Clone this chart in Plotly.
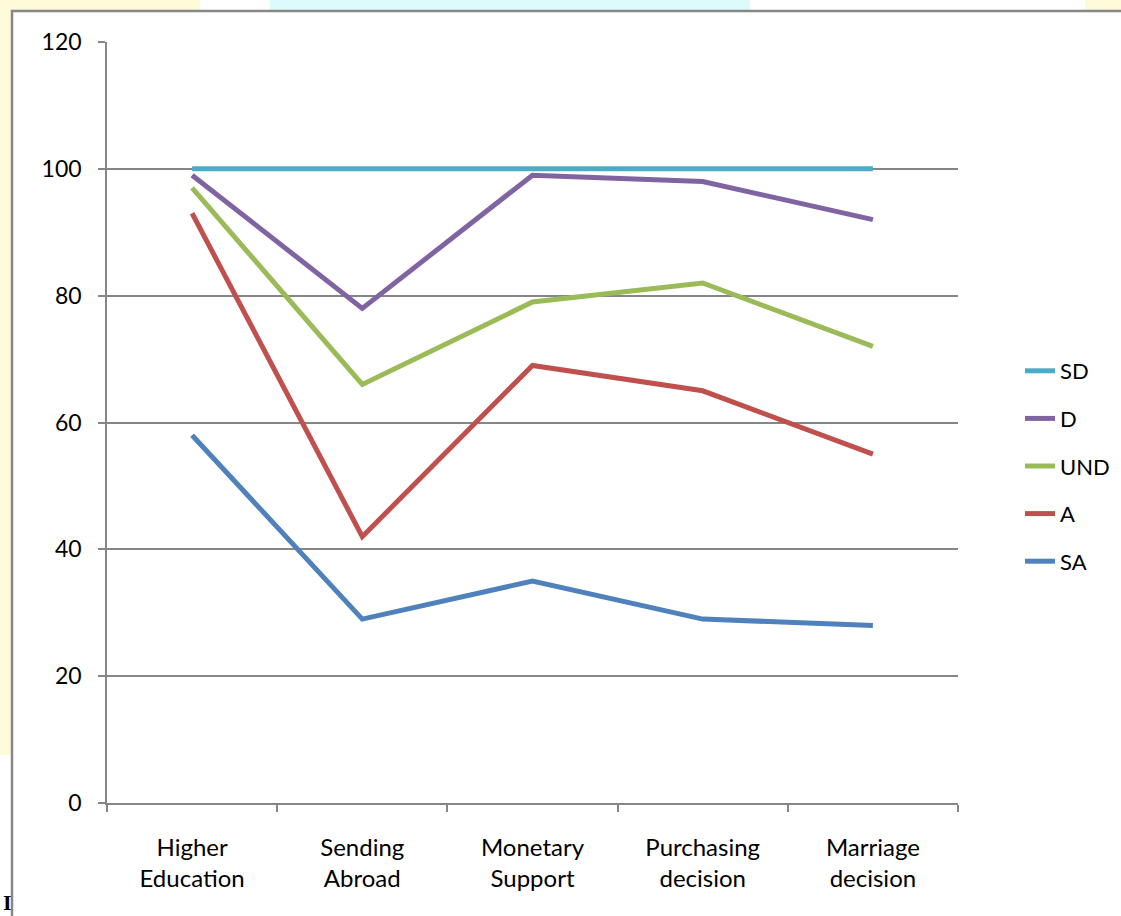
import plotly.graph_objects as go

categories = ["Higher<br>Education", "Sending<br>Abroad", "Monetary<br>Support",
              "Purchasing<br>decision", "Marriage<br>decision"]
sd = [100, 100, 100, 100, 100]
d = [99, 78, 99, 98, 92]
und = [97, 66, 79, 82, 72]
a = [93, 42, 69, 65, 55]
sa = [58, 29, 35, 29, 28]

# drawing order (bottom to top) with legend rank
series = [
    ("SA", sa, "#4F81BD", 5),
    ("A", a, "#C0504D", 4),
    ("UND", und, "#9BBB59", 3),
    ("D", d, "#8064A2", 2),
    ("SD", sd, "#4BACC6", 1),
]

W, H = 1121, 916
L, R, T, B = 107, 958, 42, 803

def px(x):
    return (x - L) / (R - L)

def py(y):
    return (B - y) / (B - T)

fig = go.Figure()
for name, vals, color, rank in series:
    fig.add_trace(go.Scatter(
        x=categories, y=vals, name=name, mode="lines",
        line=dict(color=color, width=5),
        legendgroup=name, legendrank=rank,
    ))

shapes = [
    dict(type="rect", xref="paper", yref="paper", x0=px(-5), x1=px(12), y0=py(755), y1=py(-5),
         fillcolor="#FEFBDB", line=dict(width=0), layer="below"),
    dict(type="rect", xref="paper", yref="paper", x0=px(-5), x1=px(200), y0=py(12), y1=py(-5),
         fillcolor="#FEFBDB", line=dict(width=0), layer="below"),
    dict(type="rect", xref="paper", yref="paper", x0=px(270), x1=px(750), y0=py(12), y1=py(-5),
         fillcolor="#DDFBFC", line=dict(width=0), layer="below"),
    dict(type="rect", xref="paper", yref="paper", x0=px(1085), x1=px(1130), y0=py(12), y1=py(-5),
         fillcolor="#FEFBDB", line=dict(width=0), layer="below"),
    dict(type="rect", xref="paper", yref="paper", x0=px(12), x1=px(1140), y0=py(935), y1=py(11),
         fillcolor="white", line=dict(color="#878787", width=2.5), layer="below"),
]

fig.update_layout(
    width=W, height=H,
    margin=dict(l=L, r=W - R, t=T, b=H - B, autoexpand=False),
    paper_bgcolor="white",
    plot_bgcolor="rgba(0,0,0,0)",
    font=dict(family="Lato, Calibri, sans-serif", size=22, color="#000000"),
    shapes=shapes,
    showlegend=True,
    legend=dict(
        x=px(1020), xanchor="left", y=py(466), yanchor="middle",
        traceorder="grouped", tracegroupgap=16,
        font=dict(size=22), bgcolor="rgba(0,0,0,0)",
    ),
    annotations=[
        dict(text="<b>I</b>", xref="paper", yref="paper", x=px(1), y=py(917),
             xanchor="left", yanchor="bottom", showarrow=False,
             font=dict(family="Liberation Serif", size=22, color="#000"))
    ],
)

fig.update_xaxes(
    type="category", range=[-0.5, 4.5],
    showgrid=False, showline=True, linecolor="#868686", linewidth=1.5,
    ticks="outside", tickson="boundaries", ticklen=7, tickcolor="#868686", tickwidth=1.5,
    ticklabelstandoff=22, tickfont=dict(size=24),
)
fig.update_yaxes(
    range=[0, 120], tickvals=[0, 20, 40, 60, 80, 100, 120],
    showgrid=True, gridcolor="#868686", gridwidth=1.5,
    showline=True, linecolor="#868686", linewidth=1.5,
    ticks="outside", ticklen=7, tickcolor="#868686", tickwidth=1.5,
    ticklabelstandoff=12, zeroline=False, tickfont=dict(size=23),
)

fig.write_html("out.html")
